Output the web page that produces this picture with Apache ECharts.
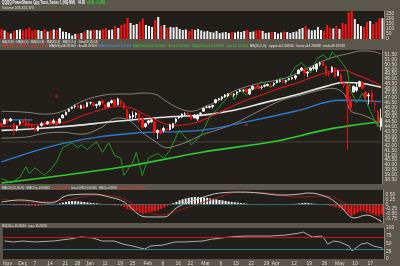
<!DOCTYPE html>
<html><head><meta charset="utf-8">
<script src="https://cdn.jsdelivr.net/npm/echarts@6/dist/echarts.min.js"></script>
<style>html,body{margin:0;padding:0;background:#5c574d;}#c{width:400px;height:266px;}</style>
</head><body><div id="c"></div>
<script>
// ---- trading calendar ----
const firstDay = '2009-11-20', lastDay = '2010-05-21';
const holidays = ['2009-11-26','2009-12-25','2010-01-01','2010-01-18','2010-02-15','2010-04-02'];
const dates = [];
for (let d = new Date(firstDay + 'T00:00:00Z'); d <= new Date(lastDay + 'T00:00:00Z'); d.setUTCDate(d.getUTCDate() + 1)) {
  const s = d.toISOString().slice(0, 10), w = d.getUTCDay();
  if (w !== 0 && w !== 6 && holidays.indexOf(s) < 0) dates.push(s);
}
const tickLabels = [['2009-11-23','Nov'],['2009-12-01','Dec'],['2009-12-07','7'],['2009-12-14','14'],['2009-12-21','21'],['2009-12-28','28'],['2010-01-04','Jan'],['2010-01-11','11'],['2010-01-19','19'],['2010-01-25','25'],['2010-02-01','Feb'],['2010-02-08','8'],['2010-02-16','16'],['2010-02-22','22'],['2010-03-01','Mar'],['2010-03-08','8'],['2010-03-15','15'],['2010-03-22','22'],['2010-03-29','29'],['2010-04-01','Apr'],['2010-04-12','12'],['2010-04-19','19'],['2010-04-26','26'],['2010-05-03','May'],['2010-05-10','10'],['2010-05-17','17']];

// ---- prices ----
const opens = [44.3,44.3,44.7,44.6,44.3,43.8,44.3,44.6,44.5,44.3,44.1,43.9,43.6,44.1,44.4,44.3,44.5,44.4,44.5,44.4,44.9,45.2,45.6,45.9,46.1,46.2,45.9,46.2,46.1,46.5,46.4,46.2,46.3,46.7,46.3,46.1,46.5,46.8,46.3,46.7,46.4,45.8,44.9,45.0,45.2,45.4,44.8,44.0,44.4,44.5,44.5,43.4,43.6,43.6,43.8,43.7,43.9,44.5,44.9,45.0,45.3,45.4,45.2,44.9,44.8,45.3,45.6,46.0,46.0,46.1,46.5,46.8,46.9,47.1,47.2,47.5,47.3,47.5,47.7,47.8,47.9,47.4,47.9,48.1,48.2,48.1,48.2,48.3,48.3,48.4,48.6,48.7,48.8,48.7,48.9,49.0,49.1,49.5,49.9,50.0,49.6,49.9,50.1,50.0,50.5,50.7,50.3,49.6,49.7,50.1,49.3,49.4,48.6,48.3,46.6,47.6,47.8,48.2,48.6,47.6,47.2,47.5,46.4,45.6,44.0];
const closes = [44.1,44.7,44.6,44.8,43.7,44.0,44.5,44.4,44.1,44.2,44.0,43.6,44.0,44.3,44.2,44.5,44.3,44.6,44.2,44.8,45.2,45.5,45.8,46.0,46.1,46.0,46.2,45.9,46.5,46.5,46.2,46.3,46.6,46.5,46.0,46.5,46.7,46.2,46.9,46.4,45.9,44.8,45.1,45.2,45.4,44.6,43.9,44.3,44.6,44.7,43.4,43.6,43.3,43.8,43.7,44.2,44.3,44.8,45.0,45.3,45.3,45.3,44.8,45.2,45.2,45.4,45.9,46.0,46.1,46.2,46.8,46.9,47.1,47.3,47.4,47.4,47.4,47.6,47.8,47.8,47.6,47.9,48.2,48.0,48.0,48.1,48.3,48.4,48.2,48.5,48.8,48.8,48.7,48.8,49.0,49.1,49.3,49.9,50.1,49.6,49.7,50.1,50.2,50.5,50.6,50.4,49.4,49.5,50.2,49.2,49.8,48.7,48.3,46.7,46.0,48.2,48.1,48.7,48.0,47.1,47.3,46.6,46.3,44.4,44.88];
const lows   = [43.9,44.2,44.3,44.5,43.1,43.5,44.2,44.3,44.0,43.8,43.8,43.4,43.5,44.0,44.1,44.2,44.2,44.3,44.1,44.3,44.9,45.2,45.5,45.8,45.9,45.9,45.9,45.8,46.0,46.3,46.1,45.9,46.1,46.3,45.8,46.0,46.4,46.1,46.2,46.1,45.8,44.7,44.8,44.8,44.9,44.4,43.8,43.9,44.2,44.4,43.3,42.7,43.2,43.4,43.4,43.6,43.8,44.3,44.8,44.9,45.1,45.1,44.7,44.9,44.6,45.1,45.6,45.9,45.9,45.9,46.4,46.7,46.7,47.0,47.1,47.3,47.1,47.3,47.6,47.6,47.5,47.3,47.8,47.9,47.9,47.9,48.1,48.2,48.1,48.2,48.5,48.6,48.5,48.5,48.8,48.9,48.9,49.5,49.8,49.3,49.2,49.8,49.9,49.7,50.3,50.3,49.3,49.2,49.6,49.1,49.3,48.5,48.0,41.6,45.4,47.6,47.6,48.1,47.9,46.6,46.3,46.4,45.6,44.3,43.6];
const highs  = [44.5,44.9,44.8,44.9,44.4,44.1,44.7,44.8,44.9,44.7,44.3,44.0,44.1,44.5,44.5,44.6,44.7,44.8,44.6,44.9,45.3,45.6,45.9,46.1,46.3,46.3,46.3,46.3,46.6,46.6,46.6,46.4,46.7,46.8,46.4,46.6,46.8,46.9,47.0,46.8,46.6,45.9,45.3,45.6,45.5,45.5,45.1,44.4,44.7,44.8,44.6,43.7,43.8,44.0,43.9,44.3,44.4,44.9,45.1,45.4,45.5,45.5,45.3,45.3,45.3,45.5,46.0,46.2,46.2,46.3,46.9,47.0,47.2,47.4,47.5,47.6,47.5,47.7,47.9,47.9,48.0,48.0,48.3,48.2,48.5,48.3,48.4,48.5,48.5,48.6,48.9,48.9,48.9,48.9,49.1,49.2,49.4,50.0,50.2,50.1,49.8,50.2,50.4,50.6,50.8,50.9,50.4,49.8,50.3,50.2,49.9,49.5,48.8,48.5,47.2,48.3,48.6,48.8,48.7,47.7,47.5,47.8,46.7,45.7,45.9];
const volumes = [100,85,65,55,80,90, 95,85,100,115,85,95,90,80,100,75,85,95,90,110,75,70,60,35,50,55,60,75, 90,85,95,90,85,100,110,90,95,130,110,140,155,210,160,140,150,170,205, 140,130,120,190,220,130,140,110,120,115,120,100,90,95,80,100,90,100,85, 75,80,70,65,80,60,65,70,60,70,65,75,70,80,90,70,75,85,90,80,60,65,70, 70,55,65,75,70,60,70,75,100,110,130,95,85,90,120,90,80,140,110,105,130, 100,160,150,270,290,200,150,130,120,170,180,150,170,210,208];

// ---- overlays: [day index, value] ----
const bbUpper = [[0,45.6],[8,45.5],[14,45.3],[20,45.6],[26,46.6],[32,47.2],[38,47.4],[42,47.4],[46,47.5],[50,47.4],[54,46.6],[58,45.9],[62,45.6],[66,46.0],[70,46.6],[76,47.7],[84,48.5],[92,49.0],[98,49.8],[104,50.7],[108,51.2],[113,51.6],[118,51.9],[122,51.8],[124,51.6]];
const bbLower = [[0,42.8],[8,42.9],[14,43.3],[20,43.4],[26,43.2],[32,43.8],[38,44.9],[42,44.6],[46,43.4],[50,42.5],[54,41.8],[58,42.1],[62,42.6],[66,43.2],[70,43.6],[76,44.3],[84,45.6],[92,46.8],[98,47.3],[104,47.8],[108,48.0],[112,47.4],[114,45.7],[118,45.2],[122,44.6],[124,43.8]];
const maRed   = [[0,44.0],[10,44.2],[20,44.4],[27,45.2],[32,45.7],[38,46.1],[42,46.0],[46,45.4],[51,44.6],[56,44.1],[62,44.3],[66,44.7],[72,45.6],[78,46.5],[84,47.2],[90,47.9],[96,48.5],[102,49.2],[108,49.8],[112,49.9],[116,49.4],[120,48.9],[124,48.3]];
const maWhite = [[0,43.6],[12,43.8],[24,44.1],[36,44.5],[50,44.9],[60,45.1],[66,45.2],[76,45.7],[86,46.5],[96,47.3],[106,48.2],[112,48.6],[118,48.5],[124,48.1]];
const maBlueShort = [[0,44.7],[10,44.7]];
const maBlue  = [[0,40.3],[21,42.3],[43,43.3],[65,43.6],[80,44.5],[96,45.6],[111,46.75],[124,46.6]];
const maGreen = [[0,38.1],[40,39.8],[65,41.3],[90,42.5],[105,43.6],[114,44.1],[124,44.5]];
const zigzag  = [[0,38.6],[3,38.1],[6,38.7],[8,39.8],[9,39.1],[11,39.7],[14,38.9],[16,39.5],[18,40.3],[20,41.8],[23,42.3],[25,41.8],[26,42.1],[28,41.6],[31,42.4],[33,41.3],[35,42.3],[37,41.0],[39,40.7],[40,38.9],[43,40.3],[44,41.3],[46,38.9],[48,40.7],[51,41.2],[53,40.7],[55,41.5],[58,43.6],[60,42.9],[62,42.1],[65,43.0],[68,45.0],[71,46.0],[75,47.5],[76,46.8],[78,47.8],[80,47.3],[83,48.1],[85,48.7],[88,48.1],[91,49.1],[93,48.7],[96,50.2],[98,50.7],[101,49.6],[103,51.0],[105,51.5],[107,51.0],[108,51.8],[110,51.2],[113,49.9],[114,47.8],[116,46.5],[118,47.5],[120,46.0],[123,43.95],[124,45.4]];
const alertDots = [[18,47.2],[80,44.2]];
const refLevel = 42.4;

// ---- MACD ----
const macdLine = [[0,0.11],[6,0.22],[16,0.06],[22,0.48],[30,0.53],[35,0.38],[40,0.11],[45,-0.58],[48,-0.68],[53,-0.68],[57,-0.2],[61,0.11],[65,0.33],[71,0.59],[78,0.64],[84,0.59],[91,0.48],[97,0.53],[100,0.59],[106,0.38],[110,-0.05],[115,-0.73],[119,-0.58],[123,-0.84],[124,-0.95]];
const macdSignal = [[0,0.27],[10,0.11],[21,0.22],[31,0.48],[39,0.33],[45,-0.2],[52,-0.58],[58,-0.31],[65,0.06],[71,0.38],[77,0.64],[87,0.59],[96,0.38],[106,0.43],[111,0.11],[117,-0.31],[124,-0.68]];
const macdHist = [-0.02,-0.03,-0.04,-0.06,-0.08,-0.07,-0.06,-0.06,-0.08,-0.09,-0.08,-0.1,-0.09,-0.07,-0.06,-0.05,-0.04,-0.03,
 0.01,0.04,0.08,0.12,0.15,0.16,0.16,0.15,0.13,0.11,0.09,0.07,0.05,0.04,0.02,
 -0.02,-0.04,-0.06,-0.05,-0.08,-0.06,-0.1,-0.15,-0.25,-0.3,-0.33,-0.38,-0.45,-0.5,-0.48,-0.42,-0.4,-0.38,-0.33,-0.25,-0.18,-0.1,-0.04,
 0.05,0.12,0.2,0.26,0.3,0.34,0.37,0.38,0.37,0.36,0.35,0.33,0.3,0.27,0.25,0.22,0.2,0.17,0.14,0.12,0.1,0.08,0.06,0.04,0.02,
 -0.01,-0.02,-0.02,-0.01,0.01,0.0,-0.01,-0.02,-0.02,-0.01,0.0,-0.01,-0.02,-0.01,0.01,0.02,0.04,0.06,
 0.07,0.06,0.04,0.02,0.01,
 -0.02,-0.04,-0.06,-0.1,-0.12,-0.15,-0.2,-0.28,-0.35,-0.5,-0.62,-0.55,-0.45,-0.38,-0.35,-0.4,-0.45,-0.5,-0.55,-0.6,-0.55];

// ---- RSI ----
const rsi = [[0,58],[3,55],[6,58],[10,55],[16,58],[21,64],[25,71],[29,68],[32,58],[36,58],[39,48],[42,42],[46,32],[48,42],[52,45],[56,55],[59,55],[65,58],[68,64],[74,71],[79,74],[87,74],[92,77],[97,84],[98,87],[101,71],[104,74],[105,64],[106,48],[108,58],[110,55],[113,42],[114,26],[117,48],[119,52],[121,42],[124,35]];
const rsiLevels = [70, 30];

// ---- chart ----
const labelMap = {}; tickLabels.forEach(t => labelMap[t[0]] = t[1]);
const candles = dates.map((d, i) => [opens[i], closes[i], lows[i], highs[i]]);
const volData = volumes.map((v, i) => ({value: v, itemStyle: {color: closes[i] >= opens[i] ? '#f2f2f2' : '#ff1010'}}));
const histData = macdHist.map(v => ({value: v, itemStyle: {color: v >= 0 ? '#f2f2f2' : '#ff1010'}}));

const FONT = 'Liberation Sans';
const PANE = '#221f1b';
const gridBase = {left: 0, right: 16, show: true, backgroundColor: PANE, borderWidth: 0};
const grids = [
  Object.assign({top: 11, height: 28}, gridBase),
  Object.assign({top: 50, height: 134}, gridBase),
  Object.assign({top: 190, height: 33}, gridBase),
  Object.assign({top: 228, height: 32}, gridBase)
];
const xAxes = grids.map((g, k) => ({
  type: 'category', gridIndex: k, data: dates, boundaryGap: true,
  axisLine: {show: false}, axisTick: {show: false}, splitLine: {show: false},
  axisLabel: k === 3 ? {
    show: true, fontSize: 5, color: '#d8d8d8', fontFamily: FONT, margin: 2,
    interval: (idx, val) => labelMap[val] !== undefined,
    formatter: val => labelMap[val] || ''
  } : {show: false}
}));
const yLab = (extra) => Object.assign({show: true, fontSize: 5, color: '#d8d8d8', fontFamily: FONT, margin: 2}, extra);
const yAxes = [
  {type: 'value', gridIndex: 0, position: 'right', min: 0, max: 280, interval: 50,
   axisLabel: yLab({formatter: v => v <= 250 ? String(v) : ''}), splitLine: {show: false},
   axisLine: {show: true, lineStyle: {color: '#8a857a', width: 1}}, axisTick: {show: false}},
  {type: 'value', gridIndex: 1, position: 'right', min: 38, max: 52, interval: 0.5,
   axisLabel: yLab({formatter: v => (v > 38 && v < 52) ? v.toFixed(2) : ''}), splitLine: {show: false},
   axisLine: {show: true, lineStyle: {color: '#8a857a', width: 1}}, axisTick: {show: false}},
  {type: 'value', gridIndex: 2, position: 'right', min: -1, max: 0.75, interval: 0.25,
   axisLabel: yLab({formatter: v => (v > -1 && v < 0.75) ? (v === 0 ? '0' : v.toFixed(2)) : ''}), splitLine: {show: false},
   axisLine: {show: true, lineStyle: {color: '#8a857a', width: 1}}, axisTick: {show: false}},
  {type: 'value', gridIndex: 3, position: 'right', min: 0, max: 100, interval: 25,
   axisLabel: yLab({}), splitLine: {show: false},
   axisLine: {show: true, lineStyle: {color: '#8a857a', width: 1}}, axisTick: {show: false}}
];
const line = (data, color, width, smooth, z) => ({type: 'line', xAxisIndex: 1, yAxisIndex: 1, data: data, symbol: 'none',
  smooth: smooth, lineStyle: {color: color, width: width}, z: z || 2, silent: true, animation: false, clip: true});

const series = [
  {type: 'bar', xAxisIndex: 0, yAxisIndex: 0, data: volData, barWidth: 2, animation: false,
   markLine: {symbol: 'none', silent: true, animation: false, lineStyle: {opacity: 0},
     data: [{yAxis: volumes[volumes.length - 1], label: {position: 'end', formatter: '208,313,375', fontSize: 4.5, color: '#111', backgroundColor: '#f0f0f0', padding: [0, 1], distance: 1, fontFamily: FONT}}]}},
  line(bbUpper, '#9c9a96', 0.8, 0.4),
  line(bbLower, '#9c9a96', 0.8, 0.4),
  line(maGreen, '#2ecc2e', 1.6, 0.4),
  line(maBlue, '#2a7bd0', 1.3, 0.4),
  line(maBlueShort, '#2a7bd0', 1.3, false),
  line(maWhite, '#e6e6e6', 1.6, 0.4),
  line(maRed, '#d01818', 1.1, 0.4),
  line(zigzag, '#23a323', 0.9, false),
  line([[0, refLevel], [124, refLevel]], '#5a564e', 0.6, false, 1),
  {type: 'candlestick', xAxisIndex: 1, yAxisIndex: 1, data: candles, barWidth: 2, z: 5, animation: false,
   itemStyle: {color: '#ffffff', color0: '#ff1010', borderColor: '#ffffff', borderColor0: '#ff1010', borderWidth: 0.8},
   markLine: {symbol: 'none', silent: true, animation: false, lineStyle: {opacity: 0},
     data: [{yAxis: closes[closes.length - 1], label: {position: 'end', formatter: '44.88', fontSize: 4.5, color: '#111', backgroundColor: '#f0f0f0', padding: [0, 1], distance: 1, fontFamily: FONT}}]}},
  {type: 'scatter', xAxisIndex: 1, yAxisIndex: 1, data: alertDots, symbolSize: 3, itemStyle: {color: '#b02020'}, z: 6, animation: false, silent: true},
  {type: 'bar', xAxisIndex: 2, yAxisIndex: 2, data: histData, barWidth: 2, animation: false,
   markLine: {symbol: 'none', silent: true, animation: false, label: {show: false}, lineStyle: {color: '#2f7f8c', width: 0.8, type: 'solid'}, data: [{yAxis: 0}]}},
  {type: 'line', xAxisIndex: 2, yAxisIndex: 2, data: macdSignal, symbol: 'none', smooth: 0.4, lineStyle: {color: '#8e1f1f', width: 1}, animation: false, silent: true},
  {type: 'line', xAxisIndex: 2, yAxisIndex: 2, data: macdLine, symbol: 'none', smooth: 0.4, lineStyle: {color: '#c4c4c4', width: 1}, animation: false, silent: true},
  {type: 'line', xAxisIndex: 3, yAxisIndex: 3, data: rsi, symbol: 'none', smooth: false, lineStyle: {color: '#cfcfcf', width: 0.8}, animation: false, silent: true,
   markLine: {symbol: 'none', silent: true, animation: false, label: {show: false},
     data: [{yAxis: rsiLevels[0], lineStyle: {color: '#c01818', width: 1, type: 'solid'}}, {yAxis: rsiLevels[1], lineStyle: {color: '#2f7f8c', width: 1, type: 'solid'}}]}}
];

// text squeezed horizontally to the span it takes in the original
const mctx = document.createElement('canvas').getContext('2d');
const T = (x, y, w, text, color, size, bold) => {
  const font = (bold ? 'bold ' : '') + size + 'px "' + FONT + '"';
  mctx.font = font;
  const tw = mctx.measureText(text).width || 1;
  return {type: 'text', x: x, y: y, scaleX: Math.min(1, w / tw), silent: true,
    style: {text: text, fill: color, font: font, verticalAlign: 'middle', align: 'left'}};
};
const graphic = [
  T(2, 3, 73, 'QQQQ PowerShares Qqq Trust, Series 1 (NQ-NM)', '#f0f0f0', 4.8, true),
  T(78, 3, 7, '44.88', '#f0f0f0', 4.8, true),
  T(87, 3, 18, '+0.49  +1.10%', '#33dd33', 4.8, true),
  T(2, 7.8, 32, 'Volume 208,313,375', '#e0e0e0', 4.4),
  T(2, 41.5, 96, 'MA(20,E) · MA(50,S) · MA(100,S) · MA(200,S) · BB(20,2.0) · SlowSTO(14,3)', '#e8e8e8', 4.4),
  T(2, 45.8, 46, 'EMA(20)=48.27390 · ub=47.22758', '#ff3030', 4.4),
  T(49, 45.8, 48, 'MA(50)=48.29160 · lb=48.29160', '#e8e8e8', 4.4),
  T(98, 45.8, 34, 'MA(100)=46.59061', '#4a90e0', 4.4),
  T(133, 45.8, 115, 'MA(200)=44.52334 · lb=44.52334 · MA(200)=44.52334 · lb=44.52334', '#33cc33', 4.4),
  T(250, 45.8, 95, 'BB(20,2.0) · upper=51.56940 · lower=44.28088 · mid=48.19740', '#e8e8e8', 4.4),
  T(2, 187.5, 48, 'MACD(12,26,9) · MACD=-0.93052', '#e8e8e8', 4.4),
  T(51, 187.5, 19, 'signal=-0.68130', '#ff3030', 4.4),
  T(71, 187.5, 46, 'hist=-0.24922 (0.00000) · MACD=-0.93052', '#e8e8e8', 4.4),
  T(118, 187.5, 27, 'signal=-0.68130', '#ff3030', 4.4),
  T(2, 225.5, 45, 'RSI(14) = 35.26240 · avg = 35.26240', '#e8e8e8', 4.4)
];

const chart = echarts.init(document.getElementById('c'), null, {renderer: 'canvas'});
chart.setOption({backgroundColor: '#5c574d', animation: false, grid: grids, xAxis: xAxes, yAxis: yAxes, series: series, graphic: graphic});
</script>
</body></html>
